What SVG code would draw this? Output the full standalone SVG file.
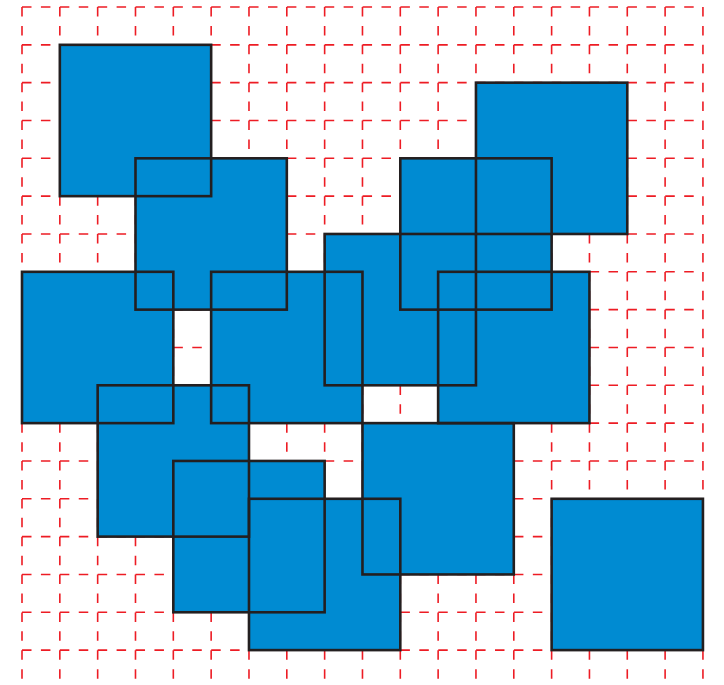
<svg xmlns="http://www.w3.org/2000/svg" width="724" height="685" viewBox="0 0 724 685">
<style>
.grid{fill:none;stroke:#ed1c24;stroke-width:1.6;stroke-dasharray:9.5 9.42}
.sq{fill:#008bd2;stroke:none}
.ol{fill:none;stroke:#231f20;stroke-width:2.6}
</style>
<rect width="724" height="685" fill="#ffffff"/>
<g id="grid">
<path class="grid" d="M22 7V685M59.83 7V685M97.66 7V685M135.49 7V685M173.32 7V685M211.15 7V685M248.98 7V685M286.81 7V685M324.64 7V685M362.47 7V685M400.3 7V685M438.13 7V685M475.96 7V685M513.79 7V685M551.62 7V685M589.45 7V685M627.28 7V685M665.11 7V685M702.94 7V685"/>
<path class="grid" d="M22 7H702.94M22 44.83H702.94M22 82.66H702.94M22 120.49H702.94M22 158.32H702.94M22 196.15H702.94M22 233.98H702.94M22 271.81H702.94M22 309.64H702.94M22 347.47H702.94M22 385.3H702.94M22 423.13H702.94M22 460.96H702.94M22 498.79H702.94M22 536.62H702.94M22 574.45H702.94M22 612.28H702.94M22 650.11H702.94"/>
</g>
<g id="sq1"><rect class="sq" x="59.83" y="44.83" width="151.32" height="151.32"/></g>
<g id="sq2"><rect class="sq" x="135.49" y="158.32" width="151.32" height="151.32"/></g>
<g id="sq3"><rect class="sq" x="475.96" y="82.66" width="151.32" height="151.32"/></g>
<g id="sq4"><rect class="sq" x="400.3" y="158.32" width="151.32" height="151.32"/></g>
<g id="sq5"><rect class="sq" x="324.64" y="233.98" width="151.32" height="151.32"/></g>
<g id="sq6"><rect class="sq" x="22" y="271.81" width="151.32" height="151.32"/></g>
<g id="sq7"><rect class="sq" x="211.15" y="271.81" width="151.32" height="151.32"/></g>
<g id="sq8"><rect class="sq" x="438.13" y="271.81" width="151.32" height="151.32"/></g>
<g id="sq9"><rect class="sq" x="97.66" y="385.3" width="151.32" height="151.32"/></g>
<g id="sq10"><rect class="sq" x="173.32" y="460.96" width="151.32" height="151.32"/></g>
<g id="sq11"><rect class="sq" x="248.98" y="498.79" width="151.32" height="151.32"/></g>
<g id="sq12"><rect class="sq" x="362.47" y="423.13" width="151.32" height="151.32"/></g>
<g id="sq13"><rect class="sq" x="551.62" y="498.79" width="151.32" height="151.32"/></g>
<g id="outlines">
<rect class="ol" x="59.83" y="44.83" width="151.32" height="151.32"/>
<rect class="ol" x="135.49" y="158.32" width="151.32" height="151.32"/>
<rect class="ol" x="475.96" y="82.66" width="151.32" height="151.32"/>
<rect class="ol" x="400.3" y="158.32" width="151.32" height="151.32"/>
<rect class="ol" x="324.64" y="233.98" width="151.32" height="151.32"/>
<rect class="ol" x="22" y="271.81" width="151.32" height="151.32"/>
<rect class="ol" x="211.15" y="271.81" width="151.32" height="151.32"/>
<rect class="ol" x="438.13" y="271.81" width="151.32" height="151.32"/>
<rect class="ol" x="97.66" y="385.3" width="151.32" height="151.32"/>
<rect class="ol" x="173.32" y="460.96" width="151.32" height="151.32"/>
<rect class="ol" x="248.98" y="498.79" width="151.32" height="151.32"/>
<rect class="ol" x="362.47" y="423.13" width="151.32" height="151.32"/>
<rect class="ol" x="551.62" y="498.79" width="151.32" height="151.32"/>
</g>
</svg>
